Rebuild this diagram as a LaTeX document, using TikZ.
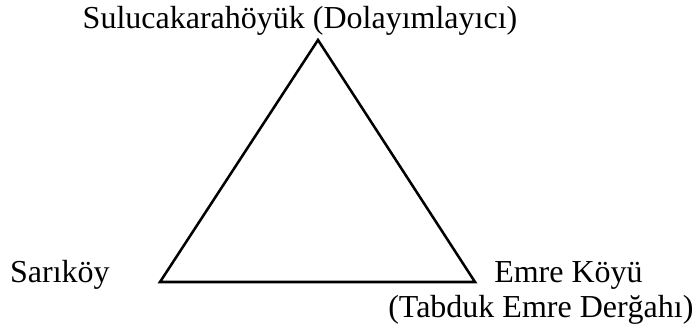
\documentclass[tikz,border=0pt]{standalone}
\usepackage{fontspec}
\setmainfont{Liberation Serif}
\usepackage{tikz}
\usetikzlibrary{positioning}
\tikzset{
  side/.style={line width=1.9pt, line join=miter, draw=black},
  place/.style={font=\fontsize{24}{28}\selectfont, inner sep=0pt, text=black}
}

\begin{document}
\begin{tikzpicture}[x=0.75pt,y=0.75pt]
\path[use as bounding box] (0,0) rectangle (698,331);
\fill[white] (0,0) rectangle (698,331);

\coordinate (top) at (318,291);
\coordinate (west) at (160,49);
\coordinate (east) at (475,49);
\draw[side] (top) -- (west) -- (east) -- cycle;

\node[place, anchor=base] (sulu) at (300,302) {Sulucakarahöyük (Dolayımlayıcı)};
\node[place, anchor=base east] (sari) at (110,48) {Sarıköy};
\node[place, anchor=base west] (emre) at (494,48) {Emre Köyü};
\node[place, anchor=base west] (tabduk) at (388,13) {(Tabduk Emre Derğahı)};
\end{tikzpicture}
\end{document}
